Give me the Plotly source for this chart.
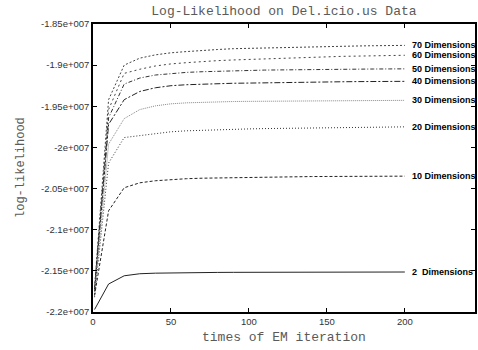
import plotly.graph_objects as go

iterations = [1, 10, 20, 30, 40, 50, 60, 70, 80, 90, 100, 110, 120, 130, 140, 150, 160, 170, 180, 190, 200]

dim70 = [-2.170, -1.942, -1.900, -1.8915, -1.8875, -1.885, -1.8835, -1.882, -1.881, -1.880, -1.8795, -1.879, -1.8785, -1.878, -1.8777, -1.8773, -1.877, -1.8767, -1.8764, -1.8762, -1.876]
dim60 = [-2.172, -1.954, -1.910, -1.905, -1.901, -1.8985, -1.897, -1.8955, -1.8945, -1.8937, -1.893, -1.8923, -1.8915, -1.891, -1.8905, -1.8898, -1.8893, -1.889, -1.8886, -1.8883, -1.888]
dim50 = [-2.175, -1.964, -1.923, -1.9157, -1.912, -1.910, -1.9088, -1.908, -1.9073, -1.9068, -1.9065, -1.906, -1.9058, -1.9055, -1.9053, -1.905, -1.9049, -1.9048, -1.9047, -1.9046, -1.9045]
dim40 = [-2.173, -1.972, -1.942, -1.932, -1.9275, -1.925, -1.9238, -1.923, -1.9225, -1.922, -1.9218, -1.9214, -1.921, -1.9208, -1.9205, -1.9203, -1.9202, -1.920, -1.9199, -1.9198, -1.9197]
dim30 = [-2.178, -1.996, -1.965, -1.954, -1.9495, -1.947, -1.9458, -1.945, -1.9445, -1.9442, -1.944, -1.9438, -1.9436, -1.9434, -1.9433, -1.9432, -1.9431, -1.943, -1.943, -1.9429, -1.9428]
dim20 = [-2.182, -2.019, -1.988, -1.9856, -1.983, -1.981, -1.9798, -1.979, -1.9783, -1.9778, -1.9775, -1.9771, -1.9768, -1.9765, -1.9762, -1.976, -1.9758, -1.9756, -1.9754, -1.9752, -1.975]
dim10 = [-2.180, -2.077, -2.049, -2.043, -2.0405, -2.039, -2.038, -2.0374, -2.037, -2.0366, -2.0363, -2.036, -2.0358, -2.0356, -2.0354, -2.0353, -2.0352, -2.0351, -2.035, -2.035, -2.0349]
dim2 = [-2.197, -2.166, -2.156, -2.1535, -2.1528, -2.1524, -2.1522, -2.152, -2.1519, -2.1518, -2.1517, -2.1517, -2.1516, -2.1516, -2.1515, -2.1515, -2.1515, -2.1514, -2.1514, -2.1514, -2.1514]

series_names = ["70 Dimensions", "60 Dimensions", "50 Dimensions", "40 Dimensions",
                "30 Dimensions", "20 Dimensions", "10 Dimensions", "2  Dimensions"]
series_values = [dim70, dim60, dim50, dim40, dim30, dim20, dim10, dim2]
dashes = ["2px,2px", "2px,3px", "4px,2px,1px,2px", "6px,2px,2px,2px",
          "1px,1px", "1px,2px", "3px,2px", "solid"]
colors = ["#444", "#444", "#333", "#222", "#888", "#333", "#222", "#222"]

ytick_vals = [-1.85, -1.9, -1.95, -2.0, -2.05, -2.1, -2.15, -2.2]
ytick_text = ["-1.85e+007", "-1.9e+007", "-1.95e+007", "-2e+007",
              "-2.05e+007", "-2.1e+007", "-2.15e+007", "-2.2e+007"]
xtick_vals = [0, 50, 100, 150, 200]

scale = 1e7

fig = go.Figure()
for name, vals, dash, col in zip(series_names, series_values, dashes, colors):
    fig.add_trace(go.Scatter(
        x=iterations, y=[v * scale for v in vals], mode="lines", name=name,
        line=dict(color=col, width=1, dash=dash), showlegend=False))
    fig.add_annotation(x=iterations[-1], y=vals[-1] * scale, text=name,
                       xanchor="left", yanchor="middle", xshift=5, showarrow=False,
                       font=dict(family="Liberation Sans, Arial", size=9, color="#000",
                                 weight=600))

fig.add_annotation(xref="paper", yref="paper", x=0, y=0.5, xshift=-72,
                   text="log-likelihood", textangle=-90, showarrow=False,
                   xanchor="center", yanchor="middle",
                   font=dict(family="Liberation Mono, Courier New", size=12, color="#5a5a5a"))
fig.add_annotation(xref="paper", yref="paper", x=0.5, y=0, yshift=-25,
                   text="times of EM iteration", showarrow=False,
                   xanchor="center", yanchor="middle",
                   font=dict(family="Liberation Mono, Courier New", size=13, color="#5a5a5a"))

fig.update_layout(
    width=478, height=350,
    margin=dict(l=93, r=3, t=24, b=38, autoexpand=False),
    paper_bgcolor="white", plot_bgcolor="white",
    title=dict(text="Log-Likelihood on Del.icio.us Data", x=0.594, y=0.971,
               xref="container", yref="container", xanchor="center", yanchor="middle",
               font=dict(family="Liberation Mono, Courier New", size=13, color="#5a5a5a")),
    xaxis=dict(range=[0, 245], tickvals=xtick_vals, showgrid=False, zeroline=False,
               automargin=False,
               showline=True, linecolor="black", linewidth=1.5, mirror="ticks",
               ticks="inside", ticklen=4, tickcolor="black",
               tickfont=dict(family="Liberation Sans, Arial", size=9.5, color="#333")),
    yaxis=dict(range=[-2.2 * scale, -1.85 * scale],
               tickvals=[v * scale for v in ytick_vals], ticktext=ytick_text,
               showgrid=False, zeroline=False, automargin=False,
               showline=True, linecolor="black", linewidth=1.5, mirror="ticks",
               ticks="inside", ticklen=4, tickcolor="black",
               tickfont=dict(family="Liberation Sans, Arial", size=9.5, color="#333")),
)

fig.write_html("out.html", config={"displayModeBar": False},
               post_script="document.body.style.margin='0';")
